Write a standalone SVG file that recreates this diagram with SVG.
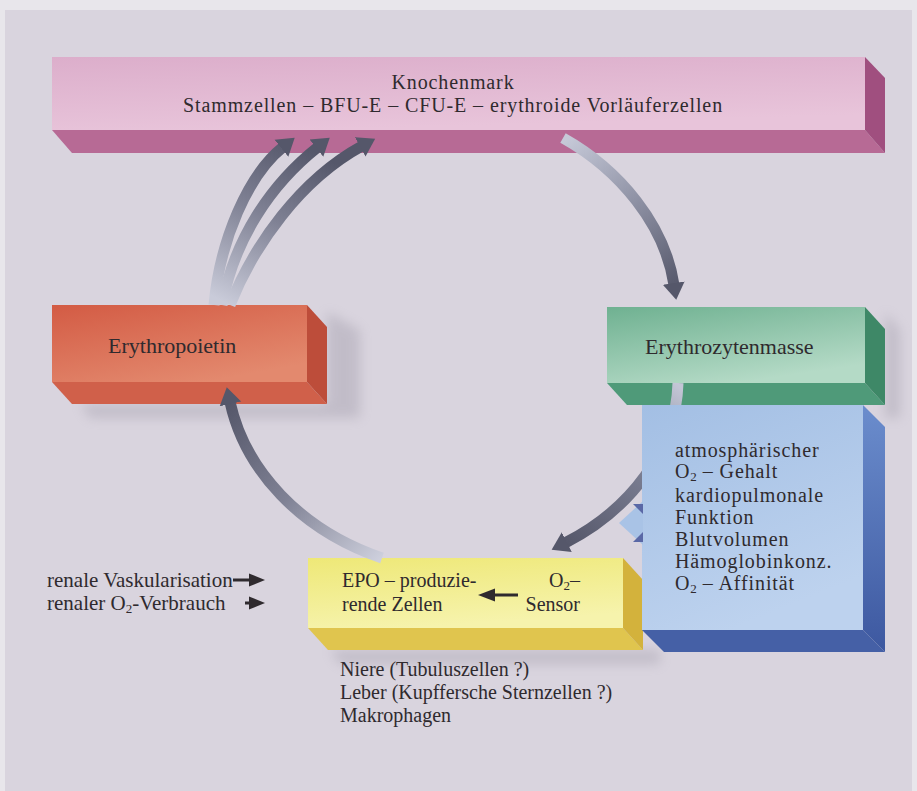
<svg xmlns="http://www.w3.org/2000/svg" width="917" height="791" viewBox="0 0 917 791">
<style>
  text { font-family: "Liberation Serif", "Times New Roman", serif; fill: #2f2a2e; }
  .lbl { font-size: 22px; }
  .blue { font-size: 20px; letter-spacing: 0.9px; }
  .sm { font-size: 20px; }
  .sub { font-size: 13px; baseline-shift: -3px; letter-spacing: 0; }
  .shaft { fill: none; stroke-width: 11; stroke-linecap: butt; }
  .small-arrow { fill: #2f2a2e; }
</style>
<defs>
  <marker id="head" markerUnits="userSpaceOnUse" viewBox="0 -12 18 24" markerWidth="18" markerHeight="24" refX="2" refY="0" orient="auto">
    <path d="M0,-11 L17,0 L0,11 z" fill="#55576a"/>
  </marker>
  <linearGradient id="gA" gradientUnits="userSpaceOnUse" x1="220" y1="300" x2="300" y2="145">
    <stop offset="0" stop-color="#c9cbd9"/><stop offset="0.55" stop-color="#7f8194"/><stop offset="1" stop-color="#55576a"/>
  </linearGradient>
  <linearGradient id="gB" gradientUnits="userSpaceOnUse" x1="565" y1="140" x2="675" y2="290">
    <stop offset="0" stop-color="#c6c9d8"/><stop offset="0.5" stop-color="#8d90a3"/><stop offset="1" stop-color="#55576a"/>
  </linearGradient>
  <linearGradient id="gC" gradientUnits="userSpaceOnUse" x1="678" y1="385" x2="565" y2="543">
    <stop offset="0" stop-color="#c3c6d6"/><stop offset="0.45" stop-color="#7c7f93"/><stop offset="1" stop-color="#55576a"/>
  </linearGradient>
  <linearGradient id="gD" gradientUnits="userSpaceOnUse" x1="380" y1="558" x2="230" y2="402">
    <stop offset="0" stop-color="#cdcfdc"/><stop offset="0.5" stop-color="#7f8194"/><stop offset="1" stop-color="#55576a"/>
  </linearGradient>
  <linearGradient id="fPink" x1="0" y1="0" x2="0.3" y2="1">
    <stop offset="0" stop-color="#dcaecb"/><stop offset="1" stop-color="#e8c4da"/>
  </linearGradient>
  <linearGradient id="fRed" x1="0" y1="0" x2="0.6" y2="1">
    <stop offset="0" stop-color="#d35b44"/><stop offset="1" stop-color="#e3896e"/>
  </linearGradient>
  <linearGradient id="fGreen" x1="0" y1="0" x2="0.5" y2="1">
    <stop offset="0" stop-color="#6fb191"/><stop offset="1" stop-color="#b4dac6"/>
  </linearGradient>
  <linearGradient id="fBlue" x1="0" y1="0" x2="0.4" y2="1">
    <stop offset="0" stop-color="#a3bfe4"/><stop offset="1" stop-color="#bdd2ee"/>
  </linearGradient>
  <linearGradient id="fBlueSide" x1="0" y1="0" x2="0" y2="1">
    <stop offset="0" stop-color="#6b8dcd"/><stop offset="1" stop-color="#3d58a0"/>
  </linearGradient>
  <linearGradient id="fYellow" x1="0" y1="0" x2="0.3" y2="1">
    <stop offset="0" stop-color="#eee877"/><stop offset="1" stop-color="#f6f3ac"/>
  </linearGradient>
  <filter id="shadow" x="-10%" y="-10%" width="130%" height="140%">
    <feGaussianBlur stdDeviation="6"/>
  </filter>
</defs>

<!-- background -->
<rect x="0" y="0" width="917" height="791" fill="#e8e6eb"/>
<rect x="5" y="10" width="907" height="781" fill="#d9d4de"/>

<!-- shadows -->
<g opacity="0.3" filter="url(#shadow)" fill="#8d8898">
  <polygon points="327,312 360,330 360,418 90,418 80,404 327,404"/>
  <polygon points="885,312 900,330 900,418 885,418"/>
  <polygon points="330,650 660,650 660,664 340,664"/>
</g>

<!-- Knochenmark -->
<g id="knochenmark">
  <rect x="52" y="57" width="813" height="73" fill="url(#fPink)"/>
  <polygon points="52,130 865,130 885,153 72,153" fill="#b76a95"/>
  <polygon points="865,57 885,78 885,153 865,130" fill="#a04f7f"/>
  <text class="blue" text-anchor="middle"><tspan x="453" y="89">Knochenmark</tspan><tspan x="453" y="112">Stammzellen – BFU-E – CFU-E – erythroide Vorläuferzellen</tspan></text>
</g>

<!-- Erythropoietin -->
<g id="erythropoietin">
  <rect x="52" y="305" width="255" height="77" fill="url(#fRed)"/>
  <polygon points="52,382 307,382 327,404 72,404" fill="#d0604a"/>
  <polygon points="307,305 327,327 327,404 307,382" fill="#bd4d3a"/>
  <text class="lbl" x="108" y="353">Erythropoietin</text>
</g>

<!-- Erythrozytenmasse -->
<g id="erythrozytenmasse">
  <rect x="607" y="307" width="258" height="76" fill="url(#fGreen)"/>
  <polygon points="607,383 865,383 885,405 627,405" fill="#4f9a79"/>
  <polygon points="865,307 885,329 885,405 865,383" fill="#3e8867"/>
  <text class="lbl" x="645" y="354">Erythrozytenmasse</text>
</g>

<!-- EPO-producing cells -->
<g id="epo-zellen">
  <rect x="308" y="558" width="315" height="70" fill="url(#fYellow)"/>
  <polygon points="308,628 623,628 643,650 328,650" fill="#e0c54e"/>
  <polygon points="623,558 643,580 643,650 623,628" fill="#d3b23c"/>
  <text class="sm"><tspan x="342" y="587">EPO – produzie-</tspan><tspan x="342" y="611">rende Zellen</tspan></text>
  <text class="sm" text-anchor="end"><tspan x="580" y="587">O<tspan class="sub">2</tspan>–</tspan><tspan x="580" y="611">Sensor</tspan></text>
  <rect x="493" y="593.5" width="25" height="3" class="small-arrow"/>
  <polygon points="478,595 495,588.5 495,601.5" class="small-arrow"/>
</g>

<!-- left labels -->
<g id="renal-labels">
  <text style="font-size:21px"><tspan x="47" y="587">renale Vaskularisation</tspan><tspan x="47" y="610">renaler O<tspan class="sub">2</tspan>-Verbrauch</tspan></text>
  <rect x="233" y="578.5" width="17" height="3" class="small-arrow"/>
  <polygon points="249,573.5 265,580 249,586.5" class="small-arrow"/>
  <rect x="245" y="601.5" width="5" height="3" class="small-arrow"/>
  <polygon points="249,596.5 265,603 249,609.5" class="small-arrow"/>
</g>

<!-- sites -->
<g id="orte">
  <text class="sm"><tspan x="340" y="676">Niere (Tubuluszellen ?)</tspan><tspan x="340" y="699">Leber (Kupffersche Sternzellen ?)</tspan><tspan x="340" y="722">Makrophagen</tspan></text>
</g>

<!-- connectors -->
<g id="connectors">
  <path class="shaft" stroke="url(#gA)" d="M214,305 C220,240 248,175 283,147" marker-end="url(#head)"/>
  <path class="shaft" stroke="url(#gA)" d="M222,305 C234,240 270,185 318,147" marker-end="url(#head)"/>
  <path class="shaft" stroke="url(#gA)" d="M230,305 C254,245 300,180 362,146" marker-end="url(#head)"/>
  <path class="shaft" stroke="url(#gB)" d="M563,138 C620,170 665,225 674,285" marker-end="url(#head)"/>
  <path class="shaft" stroke="url(#gC)" d="M678,383 C676,450 630,510 565,543" marker-end="url(#head)"/>
  <path class="shaft" stroke="url(#gD)" d="M382,558 C300,530 245,470 230,402" marker-end="url(#head)"/>
</g>

<!-- Einflussfaktoren (blue) -->
<g id="einflussfaktoren">
  <rect x="642" y="405" width="221" height="225" fill="url(#fBlue)"/>
  <polygon points="642,630 863,630 885,652 664,652" fill="#4560a6"/>
  <polygon points="863,405 885,427 885,652 863,630" fill="url(#fBlueSide)"/>
  <polygon points="643,501 619,523 643,545" fill="#a9c3e6"/>
  <polygon points="633,504 643,504 643,514" fill="#5a68a6"/>
  <polygon points="633,542 643,542 643,532" fill="#5a68a6"/>
  <text class="blue"><tspan x="675" y="457">atmosphärischer</tspan><tspan x="675" y="478">O<tspan class="sub">2</tspan> – Gehalt</tspan><tspan x="675" y="502">kardiopulmonale</tspan><tspan x="675" y="524">Funktion</tspan><tspan x="675" y="546">Blutvolumen</tspan><tspan x="675" y="568">Hämoglobinkonz.</tspan><tspan x="675" y="590">O<tspan class="sub">2</tspan> – Affinität</tspan></text>
</g>
</svg>
